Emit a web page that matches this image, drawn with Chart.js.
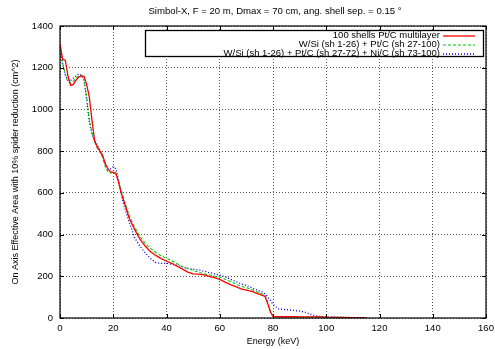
<!DOCTYPE html>
<html>
<head>
<meta charset="utf-8">
<script src="https://cdn.jsdelivr.net/npm/chart.js@4"></script>
<style>
html,body{margin:0;padding:0;background:#fff;overflow:hidden;}
#wrap{width:505px;height:349px;}
canvas{display:block;}
</style>
</head>
<body>
<div id="wrap"><canvas id="c" width="505" height="349" style="width:505px;height:349px"></canvas></div>
<script>
const chartTitle = "Simbol-X, F = 20 m, Dmax = 70 cm, ang. shell sep. = 0.15 °";
const xTitle = "Energy (keV)";
const yTitle = "On Axis Effective Area with 10% spider reduction (cm^2)";
const seriesLabels = [
  "100 shells Pt/C multilayer",
  "W/Si (sh 1-26) + Pt/C (sh 27-100)",
  "W/Si (sh 1-26) + Pt/C (sh 27-72) + Ni/C (sh 73-100)"
];
const xTicks = [0,20,40,60,80,100,120,140,160];
const yTicks = [0,200,400,600,800,1000,1200,1400];

const energy = [0,1,2,3,4,5,6,7,8,9,10,11,12,13,14,15,16,17,18,19,20,21,22,23,24,26,28,30,32,34,36,38,40,42,44,46,48,50,52,54,56,58,60,62,64,66,68,70,72,74,76,77,78,79,80,82,84,86,88,90,92,94,96,98,100,105,110,115];

const ptc = [1315,1240,1235,1160,1115,1120,1140,1155,1160,1160,1120,1060,950,850,820,800,780,740,715,700,698,694,650,600,560,478,425,378,345,318,300,285,272,262,248,234,220,212,210,207,200,193,185,172,160,150,140,134,128,118,108,104,70,30,8,6,6,6,6,5,5,5,5,5,4,3,2,1];

const wsiPtc = [1290,1220,1170,1130,1125,1135,1150,1162,1165,1150,1060,950,890,845,815,795,770,725,700,695,700,690,655,610,570,490,435,392,358,334,314,298,286,275,260,246,236,228,220,212,207,201,197,186,175,163,152,145,136,126,115,109,75,35,8,6,6,6,6,5,5,5,5,5,4,3,2,1];

const wsiPtcNic = [1280,1215,1165,1140,1140,1150,1160,1170,1165,1140,1050,940,880,850,830,805,775,740,715,715,725,715,660,595,540,460,385,345,312,285,266,262,262,258,252,245,238,234,230,225,218,212,206,198,186,175,164,156,145,134,124,116,102,84,66,44,41,39,36,33,28,18,10,6,5,3,2,2];

const colors = ["#ff0000","#00c800","#0000ff"];
const dashes = [[], [3,2], [1,2]];
const widths = [1.3, 1.1, 1.3];

function pts(ys){ return energy.map((e,i)=>({x:e,y:ys[i]})); }

const PL = 60, PR = 486, PT = 26, PB = 318;
const FONT = '"Liberation Sans", Arial, sans-serif';

const framePlugin = {
  id:'frame',
  afterDraw(chart){
    const ctx = chart.ctx, a = chart.chartArea;
    const xs = chart.scales.x, ys = chart.scales.y;
    ctx.save();
    ctx.strokeStyle = '#000'; ctx.lineWidth = 1; ctx.setLineDash([]);
    ctx.beginPath();
    xTicks.forEach(t=>{ const px = Math.round(xs.getPixelForValue(t))+0.5;
      ctx.moveTo(px,a.bottom); ctx.lineTo(px,a.bottom-4);
      ctx.moveTo(px,a.top); ctx.lineTo(px,a.top+4); });
    yTicks.forEach(t=>{ const py = Math.round(ys.getPixelForValue(t))+0.5;
      ctx.moveTo(a.left,py); ctx.lineTo(a.left+4,py);
      ctx.moveTo(a.right,py); ctx.lineTo(a.right-4,py); });
    ctx.stroke();
    ctx.lineWidth = 1.2;
    ctx.strokeRect(a.left, a.top, a.right-a.left, a.bottom-a.top);
    ctx.fillStyle = '#000';
    ctx.font = '9.6px ' + FONT;
    ctx.textAlign = 'center'; ctx.textBaseline = 'middle';
    ctx.fillText(chartTitle, 275, 11);
    const bx = 145.5, by = 30.5, bw = 338, bh = 26;
    ctx.fillStyle = '#fff';
    ctx.fillRect(bx, by, bw, bh);
    ctx.strokeStyle = '#000'; ctx.lineWidth = 1.3;
    ctx.strokeRect(bx, by, bw, bh);
    ctx.font = '9.5px ' + FONT;
    ctx.textAlign = 'right';
    chart.data.datasets.forEach((ds,i)=>{
      const y = 35.5 + i*9;
      ctx.fillStyle = '#000';
      ctx.fillText(ds.label, 440, y);
      ctx.strokeStyle = ds.borderColor; ctx.lineWidth = ds.borderWidth;
      ctx.setLineDash(ds.borderDash || []);
      ctx.beginPath(); ctx.moveTo(443, y+0.5); ctx.lineTo(475, y+0.5); ctx.stroke();
    });
    ctx.restore();
  }
};

new Chart(document.getElementById('c'), {
  type:'line',
  data:{
    datasets: seriesLabels.map((lab,i)=>({
      label: lab,
      data: pts([ptc, wsiPtc, wsiPtcNic][i]),
      borderColor: colors[i],
      backgroundColor: colors[i],
      borderWidth: widths[i],
      borderDash: dashes[i],
      pointRadius: 0,
      tension: 0,
      fill: false
    }))
  },
  options:{
    responsive:false,
    animation:false,
    events:[],
    layout:{padding:{top:PT, right:505-PR, left:0, bottom:0}},
    plugins:{legend:{display:false}, title:{display:false}, tooltip:{enabled:false}},
    scales:{
      x:{
        type:'linear', min:0, max:160,
        afterBuildTicks(s){ s.ticks = xTicks.map(v=>({value:v})); },
        afterFit(s){ s.height = 349 - PB; },
        grid:{color:'#555', lineWidth:1, drawTicks:false},
        border:{display:false, dash:[1,2]},
        ticks:{color:'#000', padding:5, font:{family:FONT, size:9.5}, maxRotation:0, callback:v=>String(v)},
        title:{display:true, text:xTitle, color:'#000', padding:{top:0,bottom:2}, font:{family:FONT, size:9}}
      },
      y:{
        type:'linear', min:0, max:1400,
        afterBuildTicks(s){ s.ticks = yTicks.map(v=>({value:v})); },
        afterFit(s){ s.width = PL; },
        grid:{color:'#555', lineWidth:1, drawTicks:false},
        border:{display:false, dash:[1,2]},
        ticks:{color:'#000', padding:7, font:{family:FONT, size:9.5}, callback:v=>String(v)},
        title:{display:true, text:yTitle, color:'#000', padding:{top:10,bottom:0}, font:{family:FONT, size:9}}
      }
    }
  },
  plugins:[framePlugin]
});
</script>
</body>
</html>
